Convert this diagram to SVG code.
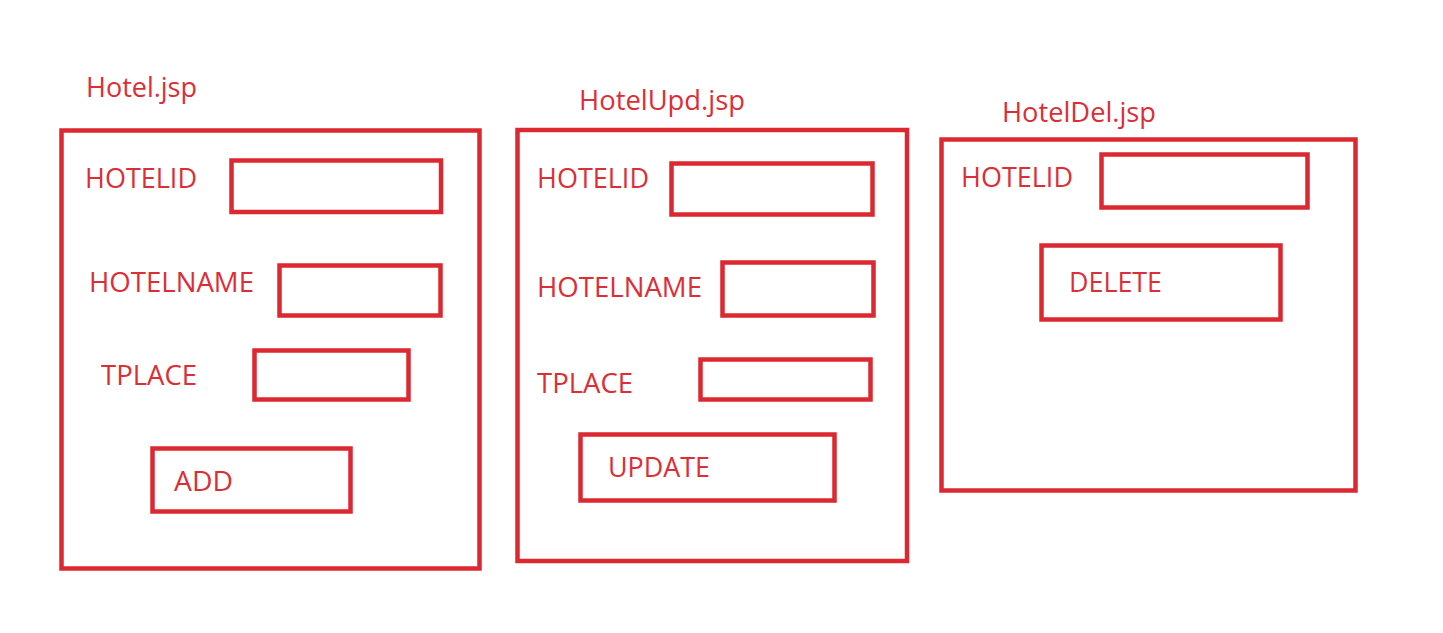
<svg xmlns="http://www.w3.org/2000/svg" width="1443" height="633" viewBox="0 0 1443 633">
<style>
.b{fill:none;stroke:#dc2830;stroke-width:4.5}
.t{fill:#dc2e36;font-family:"Open Sans","Noto Sans","Liberation Sans",sans-serif;font-size:27.5px}
.h{font-size:28px}
</style>
<rect width="1443" height="633" fill="#ffffff"/>
<g id="hotel">
<text class="t h" x="86" y="97" textLength="111" lengthAdjust="spacingAndGlyphs">Hotel.jsp</text>
<rect class="b" x="61.5" y="130.5" width="418" height="438"/>
<text class="t" x="85" y="188" textLength="112" lengthAdjust="spacingAndGlyphs">HOTELID</text>
<rect class="b" x="231.5" y="160.5" width="209.5" height="51.5"/>
<text class="t" x="89" y="292" textLength="165" lengthAdjust="spacingAndGlyphs">HOTELNAME</text>
<rect class="b" x="279.5" y="265.5" width="161" height="50"/>
<text class="t" x="101" y="385" textLength="96" lengthAdjust="spacingAndGlyphs">TPLACE</text>
<rect class="b" x="254.5" y="350.5" width="154" height="49"/>
<rect class="b" x="152.5" y="448.5" width="198" height="63"/>
<text class="t" x="174" y="491" textLength="59" lengthAdjust="spacingAndGlyphs">ADD</text>
</g>
<g id="hotelupd">
<text class="t h" x="579" y="110" textLength="166" lengthAdjust="spacingAndGlyphs">HotelUpd.jsp</text>
<rect class="b" x="517.5" y="130" width="389.5" height="431"/>
<text class="t" x="537" y="188" textLength="112" lengthAdjust="spacingAndGlyphs">HOTELID</text>
<rect class="b" x="671.5" y="163.5" width="201" height="51"/>
<text class="t" x="537" y="297" textLength="165" lengthAdjust="spacingAndGlyphs">HOTELNAME</text>
<rect class="b" x="722.5" y="262.5" width="151" height="53"/>
<text class="t" x="537" y="393" textLength="96" lengthAdjust="spacingAndGlyphs">TPLACE</text>
<rect class="b" x="700.5" y="359.5" width="170" height="40"/>
<rect class="b" x="580.5" y="434.5" width="254" height="66"/>
<text class="t" x="608" y="477" textLength="102" lengthAdjust="spacingAndGlyphs">UPDATE</text>
</g>
<g id="hoteldel">
<text class="t h" x="1002" y="122" textLength="154" lengthAdjust="spacingAndGlyphs">HotelDel.jsp</text>
<rect class="b" x="941.5" y="139.5" width="414" height="351"/>
<text class="t" x="961" y="187" textLength="112" lengthAdjust="spacingAndGlyphs">HOTELID</text>
<rect class="b" x="1101.5" y="154.5" width="206" height="53"/>
<rect class="b" x="1041.5" y="245.5" width="239" height="74"/>
<text class="t" x="1069" y="292" textLength="93" lengthAdjust="spacingAndGlyphs">DELETE</text>
</g>
<g id="connectors"></g>
</svg>
